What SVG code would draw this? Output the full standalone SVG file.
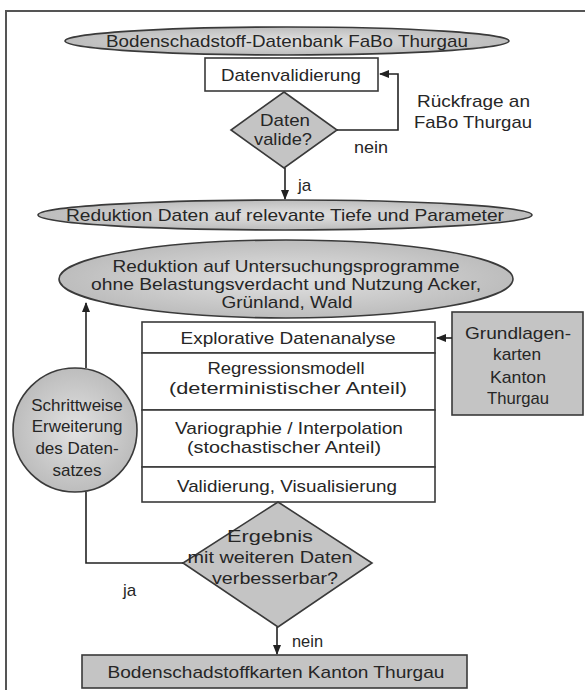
<svg xmlns="http://www.w3.org/2000/svg" width="585" height="690" viewBox="0 0 585 690">
<defs>
<radialGradient id="g1" cx="50%" cy="50%" r="55%">
<stop offset="0" stop-color="#e2e2e2"/>
<stop offset="1" stop-color="#b9b9b9"/>
</radialGradient>
<marker id="ah" markerWidth="10" markerHeight="8" refX="9" refY="4" orient="auto" markerUnits="userSpaceOnUse">
<path d="M0,0 L10,4 L0,8 z" fill="#222"/>
</marker>
</defs>
<style>
text{font-family:"Liberation Sans",Arial,sans-serif;font-size:17px;fill:#262626;text-anchor:middle}
.l{text-anchor:start}
.sh{stroke:#3a3a3a;stroke-width:1.6}
.gray{fill:url(#g1)}
.flat{fill:#c4c4c4}
.box{fill:#fff}
.c{fill:none;stroke:#222;stroke-width:1.6}
</style>
<rect x="0" y="0" width="585" height="690" fill="#fff"/>
<path d="M6,690 V11 H585" fill="none" stroke="#555" stroke-width="2"/>

<g id="n_db">
<ellipse cx="287" cy="41" rx="222" ry="14" class="gray sh"/>
<text x="287" y="47" textLength="362" lengthAdjust="spacingAndGlyphs">Bodenschadstoff-Datenbank FaBo Thurgau</text>
</g>
<g id="n_valid">
<rect x="205" y="58" width="173" height="33" class="box sh"/>
<text x="291" y="81" textLength="140" lengthAdjust="spacingAndGlyphs">Datenvalidierung</text>
</g>
<g id="n_dec1">
<polygon points="284,92 337,130 284,168 231,130" class="flat sh"/>
<text x="285" y="126" textLength="50" lengthAdjust="spacingAndGlyphs">Daten</text>
<text x="283" y="145" textLength="58" lengthAdjust="spacingAndGlyphs">valide?</text>
</g>
<g id="n_rueck">
<text x="417" y="107" class="l" textLength="113" lengthAdjust="spacingAndGlyphs">Rückfrage an</text>
<text x="414" y="128" class="l" textLength="118" lengthAdjust="spacingAndGlyphs">FaBo Thurgau</text>
</g>
<g id="n_red1">
<ellipse cx="285" cy="215" rx="247" ry="15" class="gray sh"/>
<text x="285" y="221" textLength="438" lengthAdjust="spacingAndGlyphs">Reduktion Daten auf relevante Tiefe und Parameter</text>
</g>
<g id="n_red2">
<ellipse cx="286" cy="279" rx="227" ry="39" class="gray sh"/>
<text x="286" y="272" textLength="347" lengthAdjust="spacingAndGlyphs">Reduktion auf Untersuchungsprogramme</text>
<text x="286" y="290" textLength="390" lengthAdjust="spacingAndGlyphs">ohne Belastungsverdacht und Nutzung Acker,</text>
<text x="287" y="308" textLength="131" lengthAdjust="spacingAndGlyphs">Grünland, Wald</text>
</g>
<g id="n_stack">
<rect x="142" y="322" width="293" height="31" class="box sh"/>
<rect x="142" y="353" width="293" height="57" class="box sh"/>
<rect x="142" y="410" width="293" height="57" class="box sh"/>
<rect x="142" y="467" width="293" height="35" class="box sh"/>
<text x="288" y="344" textLength="215" lengthAdjust="spacingAndGlyphs">Explorative Datenanalyse</text>
<text x="286" y="374" textLength="157" lengthAdjust="spacingAndGlyphs">Regressionsmodell</text>
<text x="288" y="394" textLength="238" lengthAdjust="spacingAndGlyphs">(deterministischer Anteil)</text>
<text x="289" y="434" textLength="228" lengthAdjust="spacingAndGlyphs">Variographie / Interpolation</text>
<text x="284" y="453" textLength="194" lengthAdjust="spacingAndGlyphs">(stochastischer Anteil)</text>
<text x="287" y="492" textLength="220" lengthAdjust="spacingAndGlyphs">Validierung, Visualisierung</text>
</g>
<g id="n_grund">
<rect x="452" y="312" width="131" height="103" class="flat sh"/>
<text x="518" y="339" textLength="106" lengthAdjust="spacingAndGlyphs">Grundlagen-</text>
<text x="517" y="360" textLength="48" lengthAdjust="spacingAndGlyphs">karten</text>
<text x="518" y="383" textLength="56" lengthAdjust="spacingAndGlyphs">Kanton</text>
<text x="518" y="404" textLength="62" lengthAdjust="spacingAndGlyphs">Thurgau</text>
</g>
<g id="n_schritt">
<circle cx="75" cy="430" r="62" class="gray sh"/>
<text x="77" y="411">Schrittweise</text>
<text x="77" y="432">Erweiterung</text>
<text x="77" y="454">des Daten-</text>
<text x="77" y="476">satzes</text>
</g>
<g id="n_dec2">
<polygon points="278,502 372,563 278,627 183,563" class="flat sh"/>
<text x="270" y="542" textLength="86" lengthAdjust="spacingAndGlyphs">Ergebnis</text>
<text x="270" y="563" textLength="165" lengthAdjust="spacingAndGlyphs">mit weiteren Daten</text>
<text x="275" y="584" textLength="126" lengthAdjust="spacingAndGlyphs">verbesserbar?</text>
</g>
<g id="n_karten">
<rect x="82" y="655" width="385" height="33" class="flat sh"/>
<text x="276" y="678" textLength="337" lengthAdjust="spacingAndGlyphs">Bodenschadstoffkarten Kanton Thurgau</text>
</g>

<g id="connectors">
<path d="M337,130 H398 V74 H380" class="c" marker-end="url(#ah)"/>
<path d="M285,168 V199" class="c" marker-end="url(#ah)"/>
<path d="M452,338 H437" class="c" marker-end="url(#ah)"/>
<path d="M86,368 V303" class="c" marker-end="url(#ah)"/>
<path d="M183,563 H86 V492" class="c"/>
<path d="M277,627 V654" class="c" marker-end="url(#ah)"/>
<text x="354" y="153" class="l" textLength="34" lengthAdjust="spacingAndGlyphs">nein</text>
<text x="298" y="191" class="l">ja</text>
<text x="123" y="596" class="l">ja</text>
<text x="292" y="647" class="l" textLength="31" lengthAdjust="spacingAndGlyphs">nein</text>
</g>
</svg>
